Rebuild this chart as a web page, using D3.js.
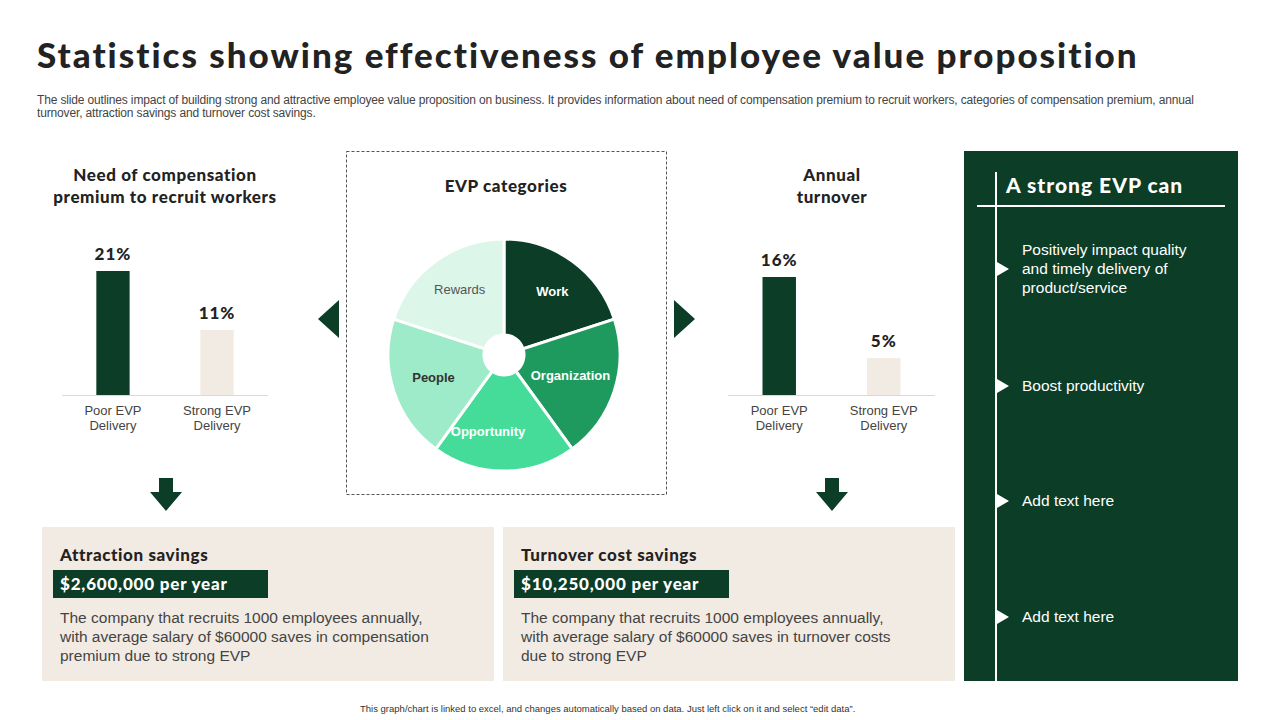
<!DOCTYPE html><html><head><meta charset="utf-8"><script src="https://cdn.jsdelivr.net/npm/d3@7"></script>
<style>body{margin:0;background:#fff}svg{display:block}</style></head><body><svg id="c" width="1280" height="720"></svg>
<script>
const compCategories=["Poor EVP\nDelivery","Strong EVP\nDelivery"];
const compValues=[21,11];
const turnCategories=["Poor EVP\nDelivery","Strong EVP\nDelivery"];
const turnValues=[16,5];
const evpCategories=["Work","Organization","Opportunity","People","Rewards"];
const evpValues=[1,1,1,1,1];
const evpColors=["#0b3d27","#1e9a5e","#45dc9a","#9eebc9","#dcf6ea"];
const evpText=["#fff","#fff","#fff","#333","#555"];
const evpPoints=["Positively impact quality\nand timely delivery of\nproduct/service","Boost productivity","Add text here","Add text here"];
const DG="#0b3d27",BEIGE="#f2ebe3",H="Lato",B="Liberation Sans";
const svg=d3.select("#c");
function txt(x,y,s,o){const t=svg.append("text").attr("x",x).attr("y",y).attr("font-family",o.f||B).attr("font-size",o.s||14).attr("font-weight",o.w||400).attr("fill",o.c||"#333").attr("text-anchor",o.a||"start").attr("letter-spacing",o.ls||0);
 s.split("\n").forEach((l,i)=>t.append("tspan").attr("x",x).attr("dy",i?(o.lh||1.2)+"em":0).text(l));return t;}
txt(37,68,"Statistics showing effectiveness of employee value proposition",{f:H,s:35,w:900,c:"#222",ls:2});
txt(37,104,"The slide outlines impact of building strong and attractive employee value proposition on business. It provides information about need of compensation premium to recruit workers, categories of compensation premium, annual\nturnover,  attraction savings and turnover cost savings.",{s:12,c:"#444",lh:1.1,ls:-0.15});
txt(360,712,"This graph/chart is linked to excel, and changes automatically based on data. Just left click on it and select “edit data”.",{s:9.5,c:"#333"});
function barChart(cats,vals,x0,x1,pxPer){
 const x=d3.scaleBand().domain(cats).range([x0,x1]).paddingInner(0.68).paddingOuter(0.33);
 const y=d3.scaleLinear().domain([0,vals[0]]).range([395,395-vals[0]*pxPer]);
 svg.selectAll(null).data(vals).enter().append("rect").attr("x",(d,i)=>x(cats[i])).attr("width",x.bandwidth()).attr("y",d=>y(d)).attr("height",d=>395-y(d)).attr("fill",(d,i)=>i?"#f2ebe3":DG);
 svg.append("line").attr("x1",x0).attr("x2",x1).attr("y1",395.5).attr("y2",395.5).attr("stroke","#d9d9d9");
 vals.forEach((d,i)=>{const cx=x(cats[i])+x.bandwidth()/2;txt(cx,y(d)-11,d+"%",{f:H,s:17,w:900,a:"middle",c:"#222",ls:1});txt(cx,415,cats[i],{s:13,a:"middle",c:"#444",lh:1.15});});
}
txt(165,181,"Need of compensation\npremium to recruit workers",{f:H,s:17,w:900,a:"middle",c:"#222",lh:1.3,ls:0.6});
barChart(compCategories,compValues,62,268,124/21);
txt(832,181,"Annual\nturnover",{f:H,s:17,w:900,a:"middle",c:"#222",lh:1.3,ls:0.6});
barChart(turnCategories,turnValues,728,935,118/16);
svg.append("rect").attr("x",346.5).attr("y",151.5).attr("width",320).attr("height",343).attr("fill","none").attr("stroke","#555").attr("stroke-dasharray","3,2");
txt(506,192,"EVP categories",{f:H,s:17,w:900,a:"middle",c:"#222",ls:0.6});
const pie=d3.pie().sort(null)(evpValues);
const arc=d3.arc().innerRadius(20).outerRadius(116);
const g=svg.append("g").attr("transform","translate(504,355)");
g.selectAll("path").data(pie).enter().append("path").attr("d",arc).attr("fill",(d,i)=>evpColors[i]).attr("stroke","#fff").attr("stroke-width",3);
const la=d3.arc().innerRadius(72).outerRadius(72);
const nudge=[[6,-6],[-2,-2],[-16,4],[-2,0],[-2,-8]];
pie.forEach((d,i)=>{const c=la.centroid(d);g.append("text").attr("x",c[0]+nudge[i][0]).attr("y",c[1]+nudge[i][1]+5).attr("text-anchor","middle").attr("font-family",B).attr("font-size",13).attr("font-weight",i==4?400:700).attr("fill",evpText[i]).text(evpCategories[i]);});
svg.append("path").attr("d","M318,319 L339,300 L339,338Z").attr("fill",DG);
svg.append("path").attr("d","M695,319 L674,300 L674,338Z").attr("fill",DG);
[166,832].forEach(cx=>svg.append("path").attr("d",`M${cx-7},478 h14 v14 h9 l-16,19 l-16,-19 h9z`).attr("fill",DG));
function box(x,title,amt,body){svg.append("rect").attr("x",x).attr("y",527).attr("width",452).attr("height",154).attr("fill",BEIGE);
 txt(x+18,561,title,{f:H,s:17,w:900,c:"#222",ls:0.6});
 svg.append("rect").attr("x",x+11).attr("y",570).attr("width",215).attr("height",28).attr("fill",DG);
 txt(x+18,590,amt,{f:H,s:17,w:900,c:"#fff",ls:0.8});
 txt(x+18,623,body,{s:15.5,c:"#444",lh:1.22});}
box(42,"Attraction savings","$2,600,000  per year","The company that recruits 1000 employees annually,\nwith average salary of $60000 saves in compensation\npremium due to strong EVP");
box(503,"Turnover cost savings","$10,250,000  per year","The company that recruits 1000 employees annually,\nwith average salary of $60000 saves in turnover  costs\ndue to strong EVP");
svg.append("rect").attr("x",964).attr("y",151).attr("width",274).attr("height",530).attr("fill",DG);
svg.append("line").attr("x1",996).attr("x2",996).attr("y1",172).attr("y2",681).attr("stroke","#fff").attr("stroke-width",2);
svg.append("line").attr("x1",977).attr("x2",1225).attr("y1",206).attr("y2",206).attr("stroke","#fff").attr("stroke-width",2);
txt(1006,193,"A strong EVP can",{f:H,s:21,w:900,c:"#fff",ls:1});
const py=[269,386,501,617];
evpPoints.forEach((p,i)=>{svg.append("path").attr("d",`M997,${py[i]-7} L1009,${py[i]} L997,${py[i]+7}Z`).attr("fill","#fff");
 const n=p.split("\n").length;txt(1022,py[i]+5-(n-1)*9.5,p,{s:15.5,c:"#fff",lh:1.22});});
</script></body></html>
